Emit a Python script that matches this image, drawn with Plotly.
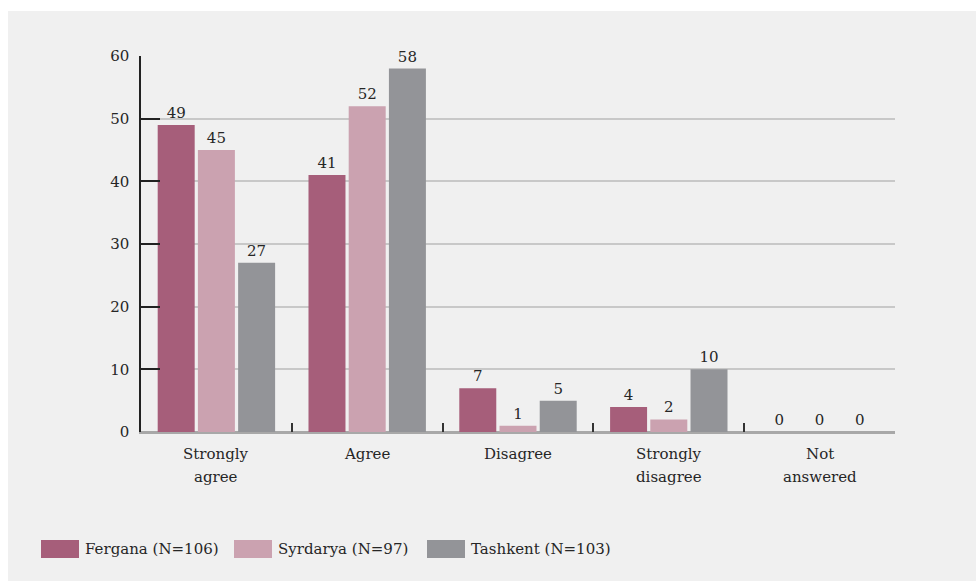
import plotly.graph_objects as go

# Survey responses (%) by region
categories = ["Strongly<br>agree", "Agree", "Disagree", "Strongly<br>disagree", "Not<br>answered"]
series_names = ["Fergana (N=106)", "Syrdarya (N=97)", "Tashkent (N=103)"]
fergana = [49, 41, 7, 4, 0]
syrdarya = [45, 52, 1, 2, 0]
tashkent = [27, 58, 5, 10, 0]
y_ticks = [0, 10, 20, 30, 40, 50, 60]

colors = ["#a65e7a", "#cba2b0", "#939498"]
values = [fergana, syrdarya, tashkent]

W, H = 976, 581
ML, MR, MT, MB = 141, 81, 56, 149
PW, PH = W - ML - MR, H - MT - MB
FONT = "DejaVu Serif"
TXT = "#262626"


def px(x):
    return (x - ML) / PW


def py(y):
    return (H - MB - y) / PH


fig = go.Figure()
for name, vals, col in zip(series_names, values, colors):
    fig.add_trace(go.Bar(
        x=categories, y=vals, name=name, marker_color=col,
        marker_line_width=0,
        text=[str(v) for v in vals], textposition="outside",
        textfont=dict(family=FONT, size=15, color=TXT),
        cliponaxis=False, showlegend=False,
    ))

shapes = [
    # panel background
    dict(type="rect", xref="paper", yref="paper", layer="below",
         x0=px(8), x1=px(W + 5), y0=py(H + 5), y1=py(11),
         fillcolor="#f0f0f0", line_width=0),
]
annotations = []

# category labels, one annotation per text line for wider line spacing
for cat in categories:
    for i, line in enumerate(cat.split("<br>")):
        annotations.append(dict(xref="x", yref="paper", x=cat, y=py(454 + 23 * i),
                                xanchor="center", yanchor="middle", showarrow=False,
                                text=line, font=dict(family=FONT, size=15, color=TXT)))

# legend
legend_x = [41, 234, 427]
for lx, name, col in zip(legend_x, series_names, colors):
    shapes.append(dict(type="rect", xref="paper", yref="paper",
                       x0=px(lx), x1=px(lx + 38), y0=py(558), y1=py(540),
                       fillcolor=col, line_width=0))
    annotations.append(dict(xref="paper", yref="paper", x=px(lx + 42), y=py(549),
                            xanchor="left", yanchor="middle", showarrow=False,
                            text=name, font=dict(family=FONT, size=15, color=TXT)))

fig.update_layout(
    width=W, height=H,
    margin=dict(l=ML, r=MR, t=MT, b=MB),
    paper_bgcolor="white", plot_bgcolor="rgba(0,0,0,0)",
    barmode="group", bargap=0.2, bargroupgap=0.08,
    font=dict(family=FONT, size=15, color=TXT),
    shapes=shapes, annotations=annotations,
    showlegend=False,
)
fig.update_yaxes(
    range=[0, 60], tickvals=y_ticks,
    showgrid=True, gridcolor="#c8c8c8", gridwidth=1.5,
    zeroline=True, zerolinecolor="#a8a8a8", zerolinewidth=2,
    showline=True, linecolor="#222222", linewidth=1.5,
    ticks="inside", ticklen=19, tickwidth=1.5, tickcolor="#222222",
    ticklabelstandoff=7,
    tickfont=dict(family=FONT, size=15, color=TXT),
)
fig.update_xaxes(
    showline=True, linecolor="#a8a8a8", linewidth=2,
    ticks="inside", tickson="boundaries", ticklen=9, tickwidth=1.5, tickcolor="#333333",
    showticklabels=False,
)

fig.write_html("out.html")
